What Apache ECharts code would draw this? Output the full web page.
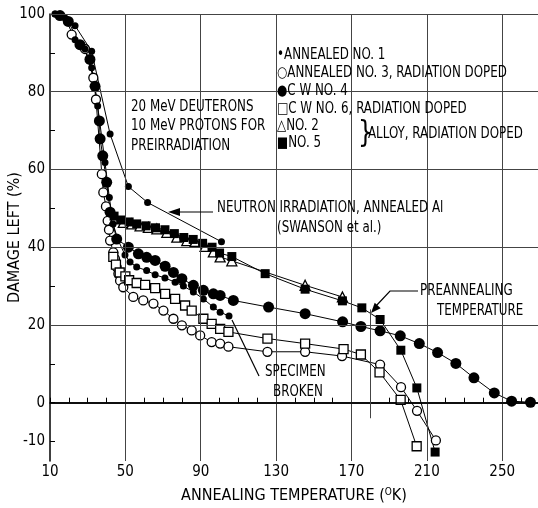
<!DOCTYPE html>
<html>
<head>
<meta charset="utf-8">
<script src="https://cdn.jsdelivr.net/npm/echarts@6/dist/echarts.min.js"></script>
<style>
  html, body { margin: 0; padding: 0; background: #fff; }
  #main { width: 538px; height: 508px; }
</style>
</head>
<body>
<div id="main"></div>
<script>
// values: [temperature K, damage left %]
var annealedNo1 = [[12.7,100],[18,99],[23.3,93.4],[28.6,91],[32.1,86.2],[35.3,76.3],[39.2,61.8],[41.5,52.8],[43.5,46],[46,42],[49.8,38],[52.5,36.2],[56,34.9],[61.3,34],[65.8,32.9],[71,32.1],[76.4,31],[80.8,30],[86.1,28.5],[91.4,26.7],[96.7,24.6],[100.3,23.3],[105,22.3]];
var annealedNo3 = [[21.5,94.7],[28.6,91],[33,83.6],[34.4,78],[37.5,58.8],[38.3,54.1],[39.7,50.5],[40.6,46.8],[41.3,44.5],[41.9,41.7],[43.6,38.7],[44.5,37],[45.4,34.9],[46.3,33.2],[47.2,31.4],[48.9,29.7],[54.2,27.2],[59.5,26.3],[64.9,25.5],[70.2,23.7],[75.5,21.6],[80,19.9],[85.2,18.6],[89.7,17.3],[95.8,15.6],[100.3,15.2],[104.7,14.4],[125.4,13.1],[145.4,13.1],[165,12],[185.2,9.8],[196.3,4],[204.8,-2.1],[214.8,-9.7]];
var cwNo4 = [[15.3,99.6],[19.7,98.1],[25.9,92.1],[31.2,88.3],[33.9,81.4],[36.2,72.5],[36.6,67.9],[38,63.5],[40.1,56.7],[41.9,49],[45.4,42.1],[51.6,40],[56.9,38.3],[61.3,37.4],[65.8,36.6],[71.1,35.1],[75.5,33.5],[80,31.9],[86.1,30.2],[91.4,28.9],[96.7,28],[100.3,27.6],[107.3,26.3],[126,24.6],[145.4,22.9],[165.3,20.8],[175,19.6],[185.2,18.5],[195.9,17.2],[206,15.2],[215.7,12.9],[225.4,10.1],[235,6.4],[245.8,2.5],[255,0.4],[265,0.1]];
var cwNo6 = [[43.6,37.5],[45,35.5],[47,33.5],[50,32.5],[52,31.5],[56,30.8],[60.5,30.3],[65.8,29.5],[71.1,28],[76.4,26.7],[81.7,25],[85.2,23.7],[91.4,21.6],[95.8,20.3],[100.3,19],[104.7,18.2],[125.4,16.5],[145.4,15.2],[165.8,13.8],[175,12.4],[184.9,7.8],[196.1,0.7],[204.6,-11.2]];
var alloyNo2 = [[44.5,47.4],[48.9,46.4],[53.4,46],[57.8,45.5],[62.2,45.1],[66.7,44.7],[72,43.8],[77.3,42.6],[82.6,41.7],[87,41.5],[92.3,40.2],[96.7,38.8],[100.3,37.5],[106.5,36.5],[145.4,30.2],[165.2,27.2]];
var alloyNo5 = [[44,48],[47.5,47],[52,46.5],[56,46],[61,45.5],[66,45],[71,44.5],[76,43.5],[81,42.5],[86,42],[91,41],[96,40],[100,38.5],[106.5,37.6],[124.2,33.2],[145.4,29.2],[165.2,26.2],[175.5,24.4],[185.2,21.4],[196.2,13.5],[204.7,3.8],[214.4,-12.7]];
var swanson = [[12.7,100],[23.3,97],[32.1,90.4],[41.9,69.1],[51.6,55.6],[61.8,51.5],[101,41.4]];

var xLabels = [10, 50, 90, 130, 170, 210, 250];
var xTicks = [10,20,30,40,50,60,70,80,90,100,110,120,130,140,150,160,170,180,190,200,210,220,230,240,250,260];
var yLabels = [-10, 0, 20, 40, 60, 80, 100];
var yTicks = [-10, 0, 10, 20, 30, 40, 50, 60, 70, 80, 90];
var xGrid = [50, 90, 130, 170, 210, 250];
var yGrid = [20, 40, 60, 80, 100];
var preannealT = 180;

var FONT = "'Liberation Sans Narrow', 'DejaVu Sans Condensed', sans-serif";

var myChart = echarts.init(document.getElementById('main'));

function pts(name, data, symbol, size, filled) {
  return {
    name: name,
    type: 'line',
    data: data,
    symbol: symbol,
    symbolSize: size,
    z: 3,
    lineStyle: { color: '#000', width: 1 },
    itemStyle: filled
      ? { color: '#000', borderColor: '#000', borderWidth: 0 }
      : { color: '#fff', borderColor: '#000', borderWidth: 1.3 },
    emphasis: { disabled: true }
  };
}

// narrow typewriter-like lettering of the scan: condensed font squeezed a bit
function txt(x, y, s, size) {
  size = size || 15;
  return {
    type: 'text', x: x, y: y, scaleX: 0.88, z: 10,
    style: { text: s, font: size + 'px ' + FONT, fill: '#000', verticalAlign: 'middle', align: 'left' }
  };
}

var option = {
  animation: false,
  backgroundColor: '#fff',
  grid: { left: 50, right: 0, top: 14, bottom: 47, outerBoundsMode: 'none', containLabel: false },
  xAxis: {
    type: 'value', min: 10, max: 269,
    name: 'ANNEALING TEMPERATURE ({s|O}K)',
    nameLocation: 'middle', nameGap: 26, nameMoveOverlap: false,
    nameTextStyle: {
      fontFamily: FONT, fontSize: 16, color: '#000',
      rich: { s: { fontFamily: FONT, fontSize: 10, verticalAlign: 'top', padding: [0, 0, 8, 0], color: '#000' } }
    },
    axisLine: { lineStyle: { color: '#000', width: 1.5 } },
    axisTick: { inside: true, length: 5, customValues: xTicks, lineStyle: { color: '#000' } },
    axisLabel: { customValues: xLabels, fontFamily: FONT, fontSize: 15, color: '#000', margin: 4 },
    splitLine: { show: false }
  },
  yAxis: {
    type: 'value', min: -15, max: 100,
    name: 'DAMAGE LEFT (%)',
    nameLocation: 'middle', nameGap: 27, nameRotate: 90, nameMoveOverlap: false,
    nameTextStyle: { fontFamily: FONT, fontSize: 16, color: '#000' },
    axisLine: { onZero: false, lineStyle: { color: '#000', width: 1.5 } },
    axisTick: { inside: true, length: 5, customValues: yTicks, lineStyle: { color: '#000' } },
    axisLabel: { customValues: yLabels, fontFamily: FONT, fontSize: 15, color: '#000', margin: 5 },
    splitLine: { show: false }
  },
  series: [
    {
      name: 'grid', type: 'line', data: [], z: 1, silent: true,
      markLine: {
        silent: true, symbol: 'none', label: { show: false }, animation: false,
        lineStyle: { color: '#444', width: 1, type: 'solid' },
        data: xGrid.map(function (v) { return { xAxis: v }; })
          .concat(yGrid.map(function (v) { return { yAxis: v }; }))
          .concat([{ yAxis: 0, lineStyle: { color: '#000', width: 1.6 } }])
          .concat([[{ coord: [preannealT, 24] }, { coord: [preannealT, -4] }]])
      }
    },
    pts('ANNEALED NO. 3, RADIATION DOPED', annealedNo3, 'circle', 9, false),
    pts('C W NO. 6, RADIATION DOPED', cwNo6, 'rect', 9, false),
    pts('NO. 2', alloyNo2, 'triangle', 10, false),
    pts('NO. 5', alloyNo5, 'rect', 9, true),
    pts('ANNEALED NO. 1', annealedNo1, 'circle', 7, true),
    pts('C W NO. 4', cwNo4, 'circle', 11, true),
    pts('NEUTRON IRRADIATION, ANNEALED Al', swanson, 'circle', 7, true)
  ],
  graphic: [
    txt(277, 55, '\u2022ANNEALED NO. 1'),
    txt(277, 73, '\u25CBANNEALED NO. 3, RADIATION DOPED'),
    txt(277, 91, '\u25CFC W NO. 4'),
    txt(277, 109, '\u25A1C W NO. 6, RADIATION DOPED'),
    txt(277, 126, '\u25B3NO. 2'),
    txt(277, 143, '\u25A0NO. 5'),
    txt(358, 134, '}', 30),
    txt(368, 134, 'ALLOY, RADIATION DOPED'),
    txt(131, 107, '20 MeV DEUTERONS'),
    txt(131, 126, '10 MeV PROTONS FOR'),
    txt(131, 146, 'PREIRRADIATION'),
    txt(217, 208, 'NEUTRON IRRADIATION, ANNEALED Al'),
    txt(277, 228, '(SWANSON et al.)'),
    txt(420, 291, 'PREANNEALING'),
    txt(437, 311, 'TEMPERATURE'),
    txt(265, 372, 'SPECIMEN'),
    txt(273, 392, 'BROKEN'),
    { type: 'polyline', z: 10, shape: { points: [[213, 212], [176, 212]] }, style: { stroke: '#000', lineWidth: 1.2 } },
    { type: 'polygon', z: 10, shape: { points: [[168, 212], [180, 208], [180, 216]] }, style: { fill: '#000' } },
    { type: 'polyline', z: 10, shape: { points: [[418, 291], [390, 291], [376, 306]] }, style: { stroke: '#000', lineWidth: 1.2 } },
    { type: 'polygon', z: 10, shape: { points: [[371, 313], [380.7, 308.2], [374.7, 302.8]] }, style: { fill: '#000' } },
    { type: 'polyline', z: 10, shape: { points: [[232, 320], [259, 376]] }, style: { stroke: '#000', lineWidth: 1.2 } }
  ]
};

myChart.setOption(option);
</script>
</body>
</html>
